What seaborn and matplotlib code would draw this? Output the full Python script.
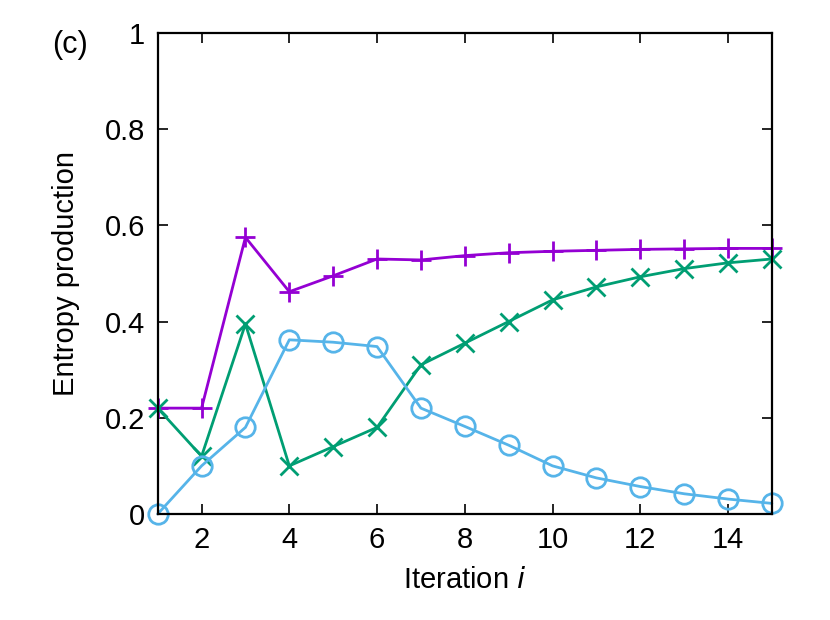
import matplotlib
matplotlib.use("Agg")
import matplotlib.pyplot as plt
import numpy as np
import pandas as pd
import seaborn as sns

iterations = list(range(1, 16))
purple_vals = [0.22, 0.22, 0.575, 0.462, 0.495, 0.530, 0.528, 0.537, 0.543, 0.546, 0.548, 0.550, 0.551, 0.552, 0.552]
green_vals = [0.22, 0.12, 0.395, 0.10, 0.14, 0.18, 0.31, 0.355, 0.40, 0.445, 0.472, 0.493, 0.510, 0.522, 0.530]
blue_vals = [0.0, 0.10, 0.18, 0.362, 0.357, 0.348, 0.22, 0.182, 0.143, 0.10, 0.075, 0.057, 0.042, 0.031, 0.022]

sns.set_style("ticks")
plt.rcParams["font.family"] = ["Liberation Sans", "DejaVu Sans"]
plt.rcParams["font.size"] = 21
plt.rcParams["text.color"] = "black"
plt.rcParams["axes.labelcolor"] = "black"
plt.rcParams["xtick.color"] = "black"
plt.rcParams["ytick.color"] = "black"
plt.rcParams["axes.edgecolor"] = "black"

fig = plt.figure(figsize=(8.3, 6.2), dpi=100)
ax = fig.add_axes([0.19, 0.171, 0.74, 0.776])

df = pd.DataFrame({"i": iterations, "p": purple_vals, "g": green_vals, "b": blue_vals})
sns.lineplot(data=df, x="i", y="p", ax=ax, color="#9400d3", lw=2, marker="+",
             markersize=15, markeredgewidth=2, markeredgecolor="#9400d3", clip_on=False)
sns.lineplot(data=df, x="i", y="g", ax=ax, color="#009e73", lw=2, marker="x",
             markersize=13, markeredgewidth=2, markeredgecolor="#009e73", clip_on=False)
sns.lineplot(data=df, x="i", y="b", ax=ax, color="#56b4e9", lw=2, marker="o",
             markersize=14, markeredgewidth=2, markeredgecolor="#56b4e9",
             markerfacecolor="none", clip_on=False)

ax.set_xlim(1, 15)
ax.set_ylim(0, 1)
ax.set_xticks([2, 4, 6, 8, 10, 12, 14])
ax.set_yticks([0, 0.2, 0.4, 0.6, 0.8, 1])
ax.set_yticklabels(["0", "0.2", "0.4", "0.6", "0.8", "1"])
ax.tick_params(direction="in", top=True, right=True, length=7, width=1.2, pad=9)
for s in ax.spines.values():
    s.set_linewidth(1.6)
ax.set_xlabel("Iteration $\\it{i}$", labelpad=8)
ax.set_ylabel("Entropy production", labelpad=18)
fig.text(0.063, 0.915, "(c)", fontsize=22)

fig.savefig("out.png", dpi=100)
